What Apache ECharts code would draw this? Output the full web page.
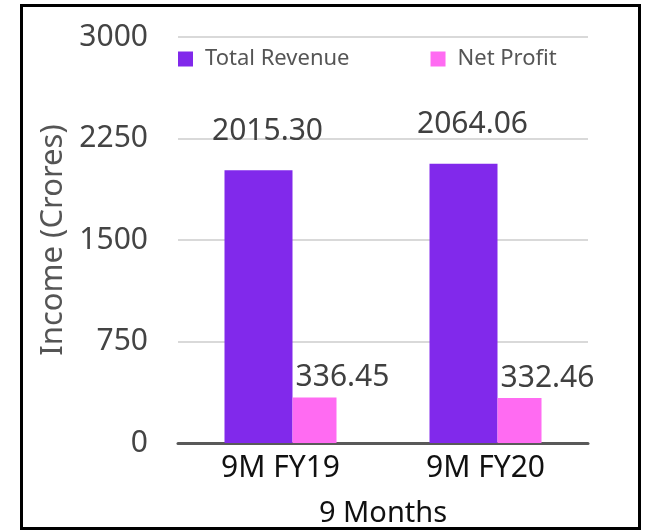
<!DOCTYPE html>
<html>
<head>
<meta charset="utf-8">
<script src="https://cdn.jsdelivr.net/npm/echarts@6/dist/echarts.min.js"></script>
<style>
  html, body { margin: 0; padding: 0; background: #fff; }
  #chart { width: 646px; height: 530px; }
  .frame { position: absolute; left: 20px; top: 4px; width: 615px; height: 520px;
           border: 3px solid #000; pointer-events: none; }
</style>
</head>
<body>
<div id="chart"></div>
<div class="frame"></div>
<script>
// 数据
const categories = ['9M FY19', '9M FY20']
const totalRevenue = [2015.30, 2064.06]
const netProfit = [336.45, 332.46]
const yTicks = [0, 750, 1500, 2250, 3000]

const fontFam = '"Noto Sans", sans-serif'
const chart = echarts.init(document.getElementById('chart'))
chart.setOption({
  animation: false,
  textStyle: { fontFamily: fontFam },
  legend: {
    left: 178, top: 48, padding: 0,
    itemWidth: 15, itemHeight: 15, itemGap: 81,
    icon: 'rect',
    textStyle: { fontSize: 22, color: '#555', padding: [0, 0, 0, 7] },
    data: ['Total Revenue', 'Net Profit']
  },
  grid: { left: 178, right: 58, top: 37, bottom: 87, outerBoundsMode: 'none', containLabel: false },
  xAxis: {
    type: 'category',
    data: categories,
    name: '9 Months',
    nameLocation: 'middle',
    nameGap: 56,
    nameTextStyle: { fontSize: 29, color: '#111' },
    axisLine: { lineStyle: { color: '#595959', width: 3 } },
    axisTick: { show: false },
    axisLabel: { fontSize: 30, color: '#111', margin: 10 }
  },
  yAxis: {
    type: 'value',
    min: yTicks[0], max: yTicks[yTicks.length - 1], interval: 750,
    name: 'Income (Crores)',
    nameLocation: 'middle',
    nameGap: 108,
    nameTextStyle: { fontSize: 31, color: '#555' },
    axisLabel: { fontSize: 30, color: '#444', margin: 30, formatter: v => String(v) },
    splitLine: { lineStyle: { color: '#d9d9d9', width: 2 } }
  },
  series: [
    {
      name: 'Total Revenue', type: 'bar', data: totalRevenue,
      barWidth: 68, barGap: '0%',
      itemStyle: { color: '#8129EB' },
      label: { show: true, position: 'top', distance: 24, offset: [9, 0], fontSize: 30, color: '#404040',
               formatter: p => p.value.toFixed(2) }
    },
    {
      name: 'Net Profit', type: 'bar', data: netProfit,
      barWidth: 44, barGap: '0%',
      itemStyle: { color: '#FF6BF2' },
      label: { show: true, position: 'top', distance: 5, offset: [28, 0], fontSize: 30, color: '#404040',
               formatter: p => p.value.toFixed(2) }
    }
  ]
})
</script>
</body>
</html>
